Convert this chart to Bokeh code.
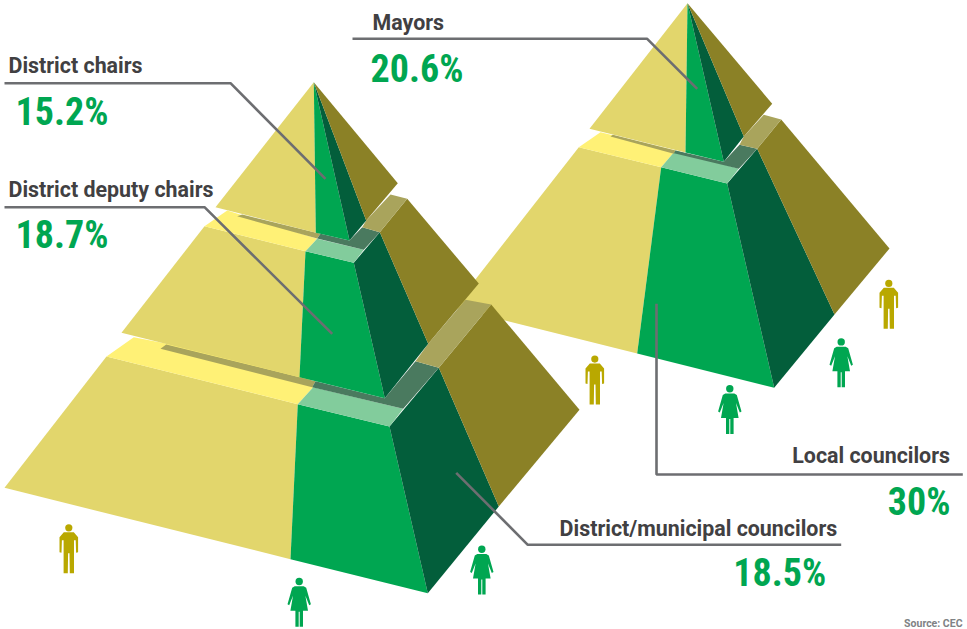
from bokeh.plotting import figure
from bokeh.models import Range1d
from bokeh.embed import file_html
from bokeh.resources import INLINE
from bokeh.core.properties import value

# ---- colours
KHAKI, YELLOW, GREEN, DARK, OLIVE = "#e2d66c", "#fff176", "#00a651", "#035e3b", "#8b8126"
TAN, MINT, MOSS = "#a9a45c", "#82cc9c", "#4a7a5f"
INK, RULE, MAN, SRC = "#414042", "#6d6e71", "#b9a800", "#808285"

# ---- labels and values
roles = ["Mayors", "District chairs", "District deputy chairs", "Local councilors", "District/municipal councilors"]
shares = ["20.6%", "15.2%", "18.7%", "30%", "18.5%"]

# ---- right pyramid (painted first), each entry: colour, outline
right_pyramid = [
    (KHAKI, [(578.3,146.7),(660.7,166.7),(636.7,353),(453,307)]),
    (GREEN, [(660.7,166.7),(726.7,183),(773.7,387.3),(636.7,353)]),
    (DARK,  [(726.7,183),(756.7,148.3),(834,314),(773.7,387.3)]),
    (OLIVE, [(756.7,148.3),(780.7,119),(889,248),(834,314)]),
    (YELLOW,[(600,131.7),(578.3,146.7),(660.7,166.7),(675,150)]),
    (MINT,  [(660.7,166.7),(675,150),(738.3,168.3),(726.7,183)]),
    (TAN,   [(610,136),(612.3,134.3),(675,150),(673.3,153.3)]),
    (MOSS,  [(673.5,152.7),(675,150),(723.3,161.3),(739,144.3),(756.7,148.3),(738.3,168.3)]),
    (TAN,   [(739,144.3),(743.3,136),(763.3,114.3),(780.7,119),(756.7,148.3)]),
    (KHAKI, [(687,2.7),(589,128.3),(685,152)]),
    (GREEN, [(687,2.7),(685,152),(723.3,161.3)]),
    (DARK,  [(687,2.7),(723.3,161.3),(743.3,136)]),
    (OLIVE, [(687,2.7),(743.3,136),(771.7,103.3)]),
]

# ---- left pyramid
left_pyramid = [
    (KHAKI, [(106,356),(297.3,403.7),(290,558.7),(4,487.3)]),
    (GREEN, [(297.3,403.7),(389,426),(427.3,592.7),(290,558.7)]),
    (DARK,  [(389,426),(438.3,367.3),(498.3,506),(427.3,592.7)]),
    (OLIVE, [(438.3,367.3),(490.7,304),(579,409.3),(498.3,506)]),
    (YELLOW,[(133.3,336.7),(106,356),(297.3,403.7),(312.7,386.7),(305,370)]),
    (MINT,  [(297.3,403.7),(312.7,386.7),(402.7,408.3),(389,426)]),
    (TAN,   [(160,348.3),(165.7,344),(315,380.7),(311.7,386.7)]),
    (MOSS,  [(311.7,386.7),(315,380.7),(384.3,397.7),(415,360.7),(438.3,367.3),(402.7,408.3)]),
    (TAN,   [(415,360.7),(427.7,343.3),(465,299.3),(490.7,304),(438.3,367.3)]),
    (KHAKI, [(204,225.7),(305,250.7),(299,376.7),(121,332.3)]),
    (GREEN, [(305,250.7),(353.3,262.3),(384.3,397.7),(299,376.7)]),
    (DARK,  [(353.3,262.3),(379.3,231.7),(427.7,343.3),(384.3,397.7)]),
    (OLIVE, [(379.3,231.7),(406.7,198.3),(478.3,283),(427.7,343.3)]),
    (YELLOW,[(226.7,210),(204,225.7),(305,250.7),(316.7,238.3)]),
    (MINT,  [(305,250.7),(316.7,238.3),(363.3,249.3),(353.3,262.3)]),
    (TAN,   [(236.7,215.7),(241.7,214),(320,233.3),(316.7,238)]),
    (MOSS,  [(316.7,238),(320,233.3),(349,240),(361.7,226.7),(379.3,231.7),(363.3,249.3)]),
    (TAN,   [(361.7,226.7),(365.7,220),(390,194),(406.7,198.3),(379.3,231.7)]),
    (KHAKI, [(313.3,81.7),(215,206.7),(315.3,232.3)]),
    (GREEN, [(313.3,81.7),(315.3,232.3),(349,240)]),
    (DARK,  [(313.3,81.7),(349,240),(365.7,220)]),
    (OLIVE, [(313.3,81.7),(365.7,220),(397.3,182.7)]),
]

# ---- pictogram outlines, centred on x = 0, head top at y = 0
man_shape = [(-5,8),(5,8),(9.3,13),(9.3,28),(7.3,28.5),(6.9,16),(5.2,16),(5.2,49),(1,49),(0.7,29),
             (-0.7,29),(-1,49),(-5.2,49),(-5.2,16),(-6.9,16),(-7.3,28.5),(-9.3,28),(-9.3,13)]
woman_shape = [(-4.5,8.5),(4.5,8.5),(7,10),(11.7,26.5),(10,27.5),(6.2,18),(8.8,33),(3.8,33),(3.8,49),(0.5,49),(0.5,34),
               (-0.5,34),(-0.5,49),(-3.8,49),(-3.8,33),(-8.8,33),(-6.2,18),(-10,27.5),(-11.7,26.5),(-7,10)]
men = [(888.3,279.3),(594.3,355),(68.3,523.7)]
women = [(729.3,384.6),(840.7,337.7),(481.3,545),(298.7,577.3)]

# ---- leader lines
leaders = [
    [(352,38.3),(646.7,38.3),(696.7,88.3)],
    [(4,82.7),(230,82.7),(325,178.3)],
    [(4,206.7),(204,206.7),(331.7,333.3)],
    [(656,303.3),(656,474),(962.3,474)],
    [(455.7,472.3),(527.3,544.3),(840.7,544.3)],
]

# role label: x, y, align -- share label: x, y, align
label_pos = [(372,21.5,"left"),(8,65.2,"left"),(8,189.2,"left"),(949.5,455.2,"right"),(836.7,527.5,"right")]
share_pos = [(370,68,"left"),(15,111,"left"),(15,234,"left"),(950,501,"right"),(825.7,572.7,"right")]

p = figure(width=967, height=629, output_backend="svg", toolbar_location=None,
           x_range=Range1d(0,967), y_range=Range1d(629,0),
           x_axis_type=None, y_axis_type=None, min_border=0, outline_line_color=None)
p.grid.visible = False

for colour, pts in right_pyramid + left_pyramid:
    p.patch([a for a,_ in pts],[b for _,b in pts], fill_color=colour, line_color=None)

for cx, top in men:
    p.patch([cx+a for a,_ in man_shape],[top+b for _,b in man_shape], fill_color=MAN, line_color=None)
    p.circle([cx],[top+3.6], radius=3.6, fill_color=MAN, line_color=None)
for cx, top in women:
    p.patch([cx+a for a,_ in woman_shape],[top+b for _,b in woman_shape], fill_color=GREEN, line_color=None)
    p.circle([cx],[top+3.7], radius=3.7, fill_color=GREEN, line_color=None)

for pts in leaders:
    p.line([a for a,_ in pts],[b for _,b in pts], line_color=RULE, line_width=2.6)

for name,(x,y,al) in zip(roles,label_pos):
    p.text([x],[y],text=[name],text_font=value("Roboto"),text_font_style="bold",text_font_size="21.4px",
           text_color=INK,text_align=al,text_baseline="alphabetic")
for sh,(x,y,al) in zip(shares,share_pos):
    p.text([x],[y],text=[sh],text_font=value("Roboto Condensed"),text_font_style="bold",text_font_size="38px",
           text_color=GREEN,text_align=al,text_baseline="alphabetic")
p.text([962],[623],text=["Source: CEC"],text_font=value("Roboto"),text_font_style="bold",text_font_size="10.5px",
       text_color=SRC,text_align="right",text_baseline="alphabetic")

open("out.html","w").write(file_html(p, INLINE))
